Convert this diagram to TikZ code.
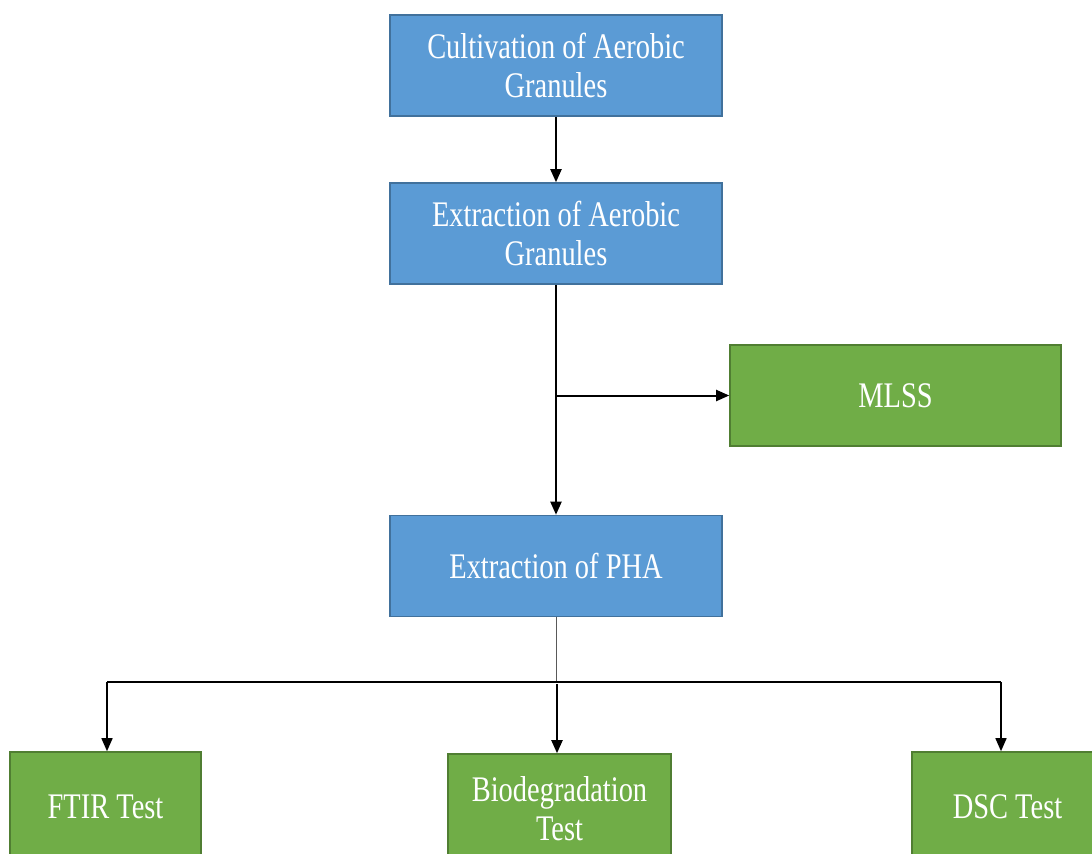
\documentclass[tikz,border=0pt]{standalone}
\usepackage{fontspec}
\newfontfamily\boxfont[FakeStretch=0.79]{Liberation Serif}
\usetikzlibrary{arrows.meta}
\definecolor{stagefill}{HTML}{5B9BD5}
\definecolor{stageborder}{HTML}{41719C}
\definecolor{testfill}{HTML}{70AD47}
\definecolor{testborder}{HTML}{507E32}

\begin{document}
\begin{tikzpicture}[x=0.5pt,y=-0.5pt]
	\tikzstyle{stage}=[rectangle, minimum height=50.5pt, minimum width=166pt, draw=stageborder, line width=0.8pt, fill=stagefill, text=white, align=center, font=\boxfont\fontsize{18}{19.5}\selectfont]
	\tikzstyle{test}=[stage, draw=testborder, fill=testfill]
	\useasboundingbox (0,0) rectangle (1092,853);
	\clip (0,0) rectangle (1092,853);

	\node[stage] (cult) at (556,65.5) {Cultivation of Aerobic\\Granules};
	\node[stage] (extr) at (556,233.5) {Extraction of Aerobic\\Granules};
	\node[test, minimum width=165.5pt] (mlss) at (895.5,395.5) {MLSS};
	\node[stage] (pha) at (556,566) {Extraction of PHA};

	\node[test, minimum width=95.5pt, minimum height=55pt] (ftir) at (105.5,807) {FTIR Test};
	\node[test, minimum width=111.5pt, minimum height=55pt] (bio) at (559.5,809) {Biodegradation\\Test};
	\node[test, minimum width=95.5pt, minimum height=55pt] (dsc) at (1007.5,807) {DSC Test};

	\coordinate (split) at (extr |- mlss);
	\coordinate (fork) at (556,682);
	\coordinate (fork-l) at (107,682);
	\coordinate (fork-m) at (557,684);
	\coordinate (fork-r) at (1001,682);

	\path[-{Triangle[length=6.5pt,width=5.5pt]}, line width=1pt]
		(cult) edge (extr)
		(extr) edge (pha)
		(split) edge (mlss);

	% fork below PHA
	\draw[gray!70!black, line width=0.5pt] (pha) -- (fork);
	\draw[line width=0.75pt] (fork-l) -- (fork-r);
	\path[-{Triangle[length=6.5pt,width=5.5pt]}, line width=0.75pt]
		(fork-l) edge (fork-l |- ftir.north)
		(fork-m) edge[line width=1pt] (fork-m |- bio.north)
		(fork-r) edge (fork-r |- dsc.north);
\end{tikzpicture}
\end{document}
